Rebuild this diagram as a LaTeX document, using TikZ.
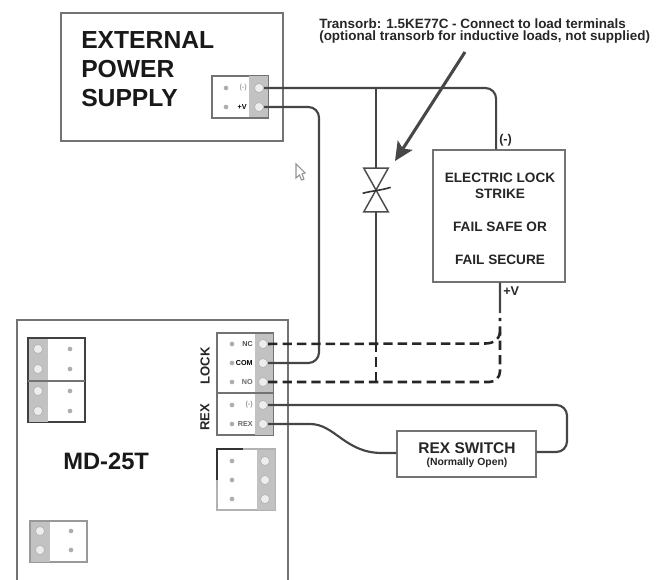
\documentclass[tikz,border=0pt]{standalone}
\usepackage{fontspec}
\setmainfont{Liberation Sans}
\usetikzlibrary{arrows.meta}
\definecolor{wire}{gray}{0.27}
\definecolor{edge}{gray}{0.45}
\definecolor{stripc}{gray}{0.76}
\definecolor{pinc}{gray}{0.93}
\definecolor{dotc}{gray}{0.68}
\tikzset{
  box/.style={draw=edge,line width=1.1pt,fill=white,inner sep=0pt},
  wirel/.style={draw=wire,line width=1.6pt,rounded corners=8pt},
  dashl/.style={draw=black!85,line width=1.9pt,dash pattern=on 7pt off 3.8pt,rounded corners=8pt},
  termpin/.style={circle,draw=gray!55,fill=pinc,line width=.7pt,minimum size=7pt,inner sep=0pt},
  pindot/.style={circle,fill=dotc,minimum size=3.5pt,inner sep=0pt},
  blockl/.style={draw=edge,line width=1pt,fill=white},
  stripf/.style={fill=stripc},
  tlabel/.style={font=\bfseries\fontsize{5.4}{6}\selectfont,inner sep=0pt,anchor=east},
  big/.style={font=\bfseries\fontsize{18.5}{22}\selectfont,align=left,inner sep=0pt,anchor=north west,text=black!90},
  strikefont/.style={font=\bfseries\fontsize{10.2}{12}\selectfont,align=center,inner sep=0pt,anchor=north,text=black!85},
  note/.style={font=\bfseries\fontsize{10.1}{9}\selectfont,align=left,inner sep=0pt,anchor=north west,text=black!85},
  vlabel/.style={font=\bfseries\fontsize{9.8}{10}\selectfont,rotate=90,inner sep=0pt,text=black!85},
  small/.style={font=\bfseries\fontsize{9.5}{10}\selectfont,inner sep=0pt,text=black!85},
  tvsbody/.style={inner sep=0pt,minimum width=18pt,minimum height=32.5pt}
}
\begin{document}
\begin{tikzpicture}[x=0.75pt,y=-0.75pt]
\useasboundingbox (0,0) rectangle (666,580);
% main boxes
\node[box,minimum width=166.5pt,minimum height=96pt] (psu) at (172,77) {};
\node[big] (psutext) at (81,31) {EXTERNAL\\POWER\\SUPPLY};
\draw[draw=edge,line width=1.2pt] (17,580) -- (17,320) -- (288,320) -- (288,580);
\node[big,font=\bfseries\fontsize{17.8}{22}\selectfont] (mdtext) at (63,453) {MD-25T};
\node[box,minimum width=99pt,minimum height=99pt] (strike) at (499,216) {};
\node[strikefont] (striketext) at (500,173) {ELECTRIC LOCK\\STRIKE\\[12.5pt]FAIL SAFE OR\\[12.5pt]FAIL SECURE};
\node[box,minimum width=104pt,minimum height=34.5pt] (rexsw) at (466.5,454) {};
\node[inner sep=0pt,anchor=base,font=\bfseries\fontsize{11.6}{12}\selectfont,text=black!85] (rextxt) at (467,453) {REX SWITCH};
\node[inner sep=0pt,anchor=base,font=\bfseries\fontsize{7.8}{8}\selectfont,text=black!85] (rexsub) at (467,465) {(Normally Open)};
% note
\node[note] (notetxt) at (319,18) {Transorb: 1.5KE77C - Connect to load terminals\\(optional transorb for inductive loads, not supplied)};
% PSU block
\draw[blockl] (212,76) rectangle (268,118);
\fill[stripf] (249,76.5) rectangle (267.5,117.5);
\node[termpin] (psuA) at (259,88) {};
\node[termpin] (psuB) at (259,107) {};
\node[pindot] at (226,88) {};
\node[pindot] at (226,107) {};
\node[tlabel,text=black!35] at (247,88) {(-)};
\node[tlabel] at (247,107) {+V};
% lock + rex blocks
\draw[blockl] (217,333) rectangle (273,393);
\draw[blockl] (217,393) rectangle (273,435);
\fill[stripf] (255,333.5) rectangle (272.5,434.5);
\draw[draw=edge,line width=1pt] (217,393) -- (273,393);
\node[termpin] (nc) at (263,344) {};
\node[termpin] (com) at (263,363) {};
\node[termpin] (no) at (263,382) {};
\node[termpin] (rexa) at (263,405) {};
\node[termpin] (rexb) at (263,424) {};
\foreach \y in {344,363,382,405,424} \node[pindot] at (232,\y) {};
\node[tlabel,text=black!70] at (253,344) {NC};
\node[tlabel] at (253,363) {COM};
\node[tlabel,text=black!60] at (253,382) {NO};
\node[tlabel,text=black!40] at (253,405) {(-)};
\node[tlabel,text=black!60] at (253,424) {REX};
\node[vlabel] (locktxt) at (205,366) {LOCK};
\node[vlabel] (rextext) at (205,417) {REX};
% upper-left double block
\draw[draw=black!75,line width=.9pt,fill=white] (28,338) rectangle (85,422);
\fill[stripf] (28.5,338.5) rectangle (48,421.5);
\draw[draw=edge,line width=1pt] (28,381) -- (85,381);
\foreach \y in {349,369,391,411} {\node[termpin] at (38,\y) {}; \node[pindot] at (70,\y) {};}
% lower-left block
\draw[draw=gray!80,line width=1pt,fill=white] (30,521) rectangle (87,562);
\fill[stripf] (30.5,521.5) rectangle (50,561.5);
\foreach \y in {531,550} {\node[termpin] at (40,\y) {}; \node[pindot] at (71,\y) {};}
% right three-pin block
\draw[draw=gray!60,line width=1pt,fill=white] (217,449) rectangle (275,510);
\draw[draw=black!80,line width=1pt] (217,480) -- (217,449) -- (243,449);
\fill[stripf] (257,449.5) rectangle (274.5,509.5);
\foreach \y in {461,480,499} {\node[termpin] at (265,\y) {}; \node[pindot] at (232,\y) {};}
% transorb
\node[tvsbody] (tvs) at (376,190) {};
\draw[draw=black!70,line width=1.1pt,fill=white] (tvs.north west) -- (tvs.north east) -- (tvs.center) -- cycle;
\draw[draw=black!70,line width=1.1pt,fill=white] (tvs.south west) -- (tvs.south east) -- (tvs.center) -- cycle;
\draw[draw=black!80,line width=1.2pt] ([xshift=-10pt,yshift=-2.5pt]tvs.center) .. controls ([xshift=-3pt,yshift=-0.5pt]tvs.center) and ([xshift=3pt,yshift=-.5pt]tvs.center) .. ([xshift=11pt,yshift=2pt]tvs.center);
% wires
\coordinate (j1) at (376,87);
\coordinate (j2) at (376,343);
\coordinate (j3) at (376,383);
\coordinate (vplus) at (500,313);
\coordinate (vdash) at (500,318);
\coordinate (ncturn) at (486,343.5);
\coordinate (ncend) at (500,332);
\draw[wirel] (psuA) -| ([xshift=-2.2pt]strike.north);
\draw[wirel] (psuB) -| (319,363) -- (com);
\draw[wirel,rounded corners=0pt] (j1) -- (tvs.north);
\draw[wirel,rounded corners=0pt] (tvs.south) -- (j2);
\draw[wirel,rounded corners=0pt] ([xshift=.7pt]strike.south) -- (vplus);
\draw[dashl,rounded corners=0pt] (j2) -- (j3);
\draw[dashl,rounded corners=0pt] (nc) -- (ncturn) .. controls (494,343) and (499,340) .. (ncend);
\draw[dashl] (no) -- (no -| vdash) -- (vdash);
\draw[wirel] (rexa) -| (567,452) -- (rexsw.east |- 0,452);
\draw[wirel,rounded corners=0pt] (rexb) -- (310,424) .. controls (335,424) and (345,453) .. (382,453) -- (rexsw.west |- 0,453);
% pointer arrow
\coordinate (arrS) at (465,52);
\coordinate (arrE) at (395,161);
\draw[draw=black!72,line width=2.3pt,-{Stealth[length=14pt,width=13pt,inset=3pt]}] (arrS) -- (arrE);
% labels on strike wires
\node[small,anchor=west] (minus) at (499,140) {(-)};
\node[small,anchor=west] (vp) at (503,291) {+V};
% mouse pointer
\draw[draw=gray!85,line width=.8pt,fill=white] (296,164) -- (296,178) -- (299.5,175) -- (301.5,180) -- (304,179) -- (302,174) -- (305,173) -- cycle;
\end{tikzpicture}
\end{document}
